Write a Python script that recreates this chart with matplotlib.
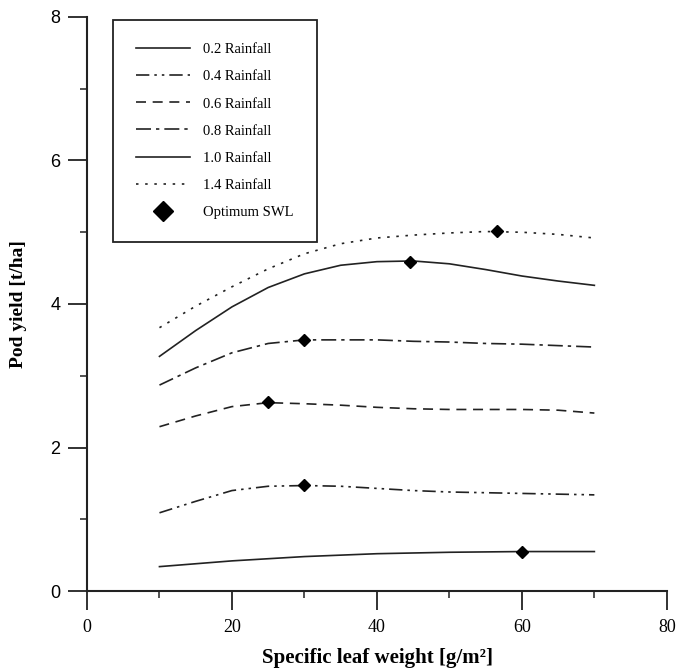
import matplotlib
matplotlib.use("Agg")
import matplotlib.pyplot as plt
from matplotlib.ticker import MultipleLocator
from matplotlib.lines import Line2D

# specific leaf weight [g/m2]
slw = [10, 15, 20, 25, 30, 35, 40, 45, 50, 55, 60, 65, 70]

# pod yield [t/ha] per rainfall fraction
yield_02 = [0.34, 0.38, 0.42, 0.45, 0.48, 0.50, 0.52, 0.53, 0.54, 0.545, 0.55, 0.55, 0.55]
yield_04 = [1.09, 1.25, 1.40, 1.46, 1.47, 1.46, 1.43, 1.40, 1.38, 1.37, 1.36, 1.35, 1.34]
yield_06 = [2.29, 2.44, 2.57, 2.625, 2.61, 2.59, 2.56, 2.54, 2.53, 2.53, 2.53, 2.52, 2.48]
yield_08 = [2.87, 3.11, 3.32, 3.45, 3.50, 3.50, 3.50, 3.48, 3.47, 3.45, 3.44, 3.42, 3.40]
yield_10 = [3.27, 3.63, 3.96, 4.23, 4.42, 4.54, 4.59, 4.60, 4.56, 4.48, 4.39, 4.32, 4.26]
yield_14 = [3.67, 3.97, 4.24, 4.49, 4.70, 4.84, 4.92, 4.96, 4.99, 5.01, 5.00, 4.97, 4.92]

# optimum SWL points
opt_x = [60, 30, 25, 30, 44.6, 56.5]
opt_y = [0.55, 1.48, 2.63, 3.50, 4.59, 5.02]

labels = ["0.2 Rainfall", "0.4 Rainfall", "0.6 Rainfall", "0.8 Rainfall",
          "1.0 Rainfall", "1.4 Rainfall"]
series = [yield_02, yield_04, yield_06, yield_08, yield_10, yield_14]
styles = ["-", (0, (8, 3, 1.5, 3, 1.5, 3)), (0, (6, 4)), (0, (9, 3, 2, 3)),
          "-", (0, (1.5, 4))]

serif = "Liberation Serif"
ink = "#222222"

fig = plt.figure(figsize=(6.77, 6.71), dpi=100)
ax = fig.add_axes([0.1285, 0.1192, 0.8565, 0.8555])

handles = []
for ys, lab, ls in zip(series, labels, styles):
    h, = ax.plot(slw, ys, color=ink, lw=1.2, linestyle=ls, label=lab)
    handles.append(h)
ax.plot(opt_x, opt_y, linestyle="none", marker="D", ms=6, color="black", zorder=3)
handles.append(Line2D([], [], linestyle="none", marker="D", ms=10, color="black",
                      label="Optimum SWL"))

ax.set_xlim(0, 80)
ax.set_ylim(0, 8)
ax.xaxis.set_major_locator(MultipleLocator(20))
ax.xaxis.set_minor_locator(MultipleLocator(10))
ax.yaxis.set_major_locator(MultipleLocator(2))
ax.yaxis.set_minor_locator(MultipleLocator(1))
ax.tick_params(which="major", length=14, width=1.3, direction="out", color=ink)
ax.tick_params(which="minor", length=5, width=1.1, direction="out", color=ink)
ax.tick_params(axis="x", pad=6)
ax.tick_params(axis="y", pad=5)

for lab in ax.get_xticklabels():
    lab.set_fontfamily(serif)
    lab.set_fontsize(13)
for lab in ax.get_yticklabels():
    lab.set_fontfamily("Liberation Sans")
    lab.set_fontsize(13)

for side in ["top", "right"]:
    ax.spines[side].set_visible(False)
for side in ["left", "bottom"]:
    ax.spines[side].set_linewidth(1.5)
    ax.spines[side].set_color(ink)

fig.text(377 / 677, 1 - 658 / 671, "Specific leaf weight [g/m²]", family=serif,
         fontsize=15, fontweight="bold", ha="center", va="center")
fig.text(19 / 677, 1 - 304 / 671, "Pod yield [t/ha]", family=serif,
         fontsize=14, fontweight="bold", ha="center", va="center", rotation=90)

leg = ax.legend(handles=handles, loc="upper left", bbox_to_anchor=(0.045, 0.995),
                frameon=True, fancybox=False, edgecolor=ink, framealpha=1,
                prop={"family": serif, "size": 10.5}, handlelength=3.7,
                labelspacing=0.95, borderpad=1.6, handletextpad=0.85,
                borderaxespad=0)
leg.get_frame().set_linewidth(1.3)

fig.savefig("out.png", dpi=100)
